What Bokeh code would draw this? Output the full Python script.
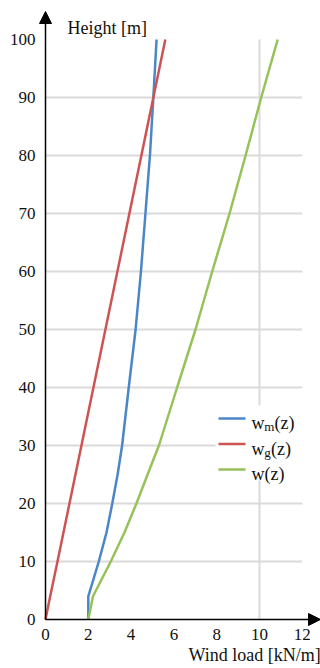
from bokeh.plotting import figure
from bokeh.models import Range1d, FixedTicker, Arrow, NormalHead, Label, ColumnDataSource, Title
from bokeh.core.properties import value
from bokeh.embed import file_html
from bokeh.resources import INLINE

# ---- data ----
heights = [0, 4, 10, 15, 20, 25, 30, 40, 50, 60, 70, 80, 90, 100]
wm = [2.0, 2.0, 2.49, 2.85, 3.12, 3.37, 3.58, 3.89, 4.21, 4.46, 4.67, 4.88, 5.04, 5.19]
wg = [0.0, 0.22, 0.56, 0.84, 1.12, 1.40, 1.68, 2.24, 2.80, 3.36, 3.92, 4.48, 5.04, 5.60]
w = [2.0, 2.22, 3.05, 3.69, 4.25, 4.77, 5.30, 6.15, 7.01, 7.79, 8.60, 9.35, 10.08, 10.85]

x_ticks = [0, 2, 4, 6, 8, 10, 12]
y_ticks = [0, 10, 20, 30, 40, 50, 60, 70, 80, 90, 100]
x_grid = [10]
y_grid = [10, 20, 30, 40, 50, 60, 70, 80, 90]

series_names = ["m", "g", ""]
colors = ["#4a86c8", "#cc5452", "#96c25a"]
FONT = "Liberation Serif"

# pixel geometry (canvas == page, template has no margin)
PX_X = 21.4   # px per kN/m
PX_Y = 5.8    # px per m
X0, Y0 = 45, 619   # pixel of the origin
W, H = 320, 668

def dx(px):
    return (px - X0) / PX_X

def dy(py):
    return (Y0 - py) / PX_Y

p = figure(width=W, height=H, output_backend="svg", toolbar_location=None,
           x_range=Range1d(dx(37), dx(320)), y_range=Range1d(dy(627), dy(0)),
           min_border_left=37, min_border_right=0, min_border_top=0, min_border_bottom=41)
p.outline_line_color = None
p.background_fill_color = "white"
p.border_fill_color = "white"
p.grid.visible = False

for axs in (p.xaxis, p.yaxis):
    axs.axis_line_color = None
    axs.major_tick_line_color = None
    axs.minor_tick_line_color = None
    axs.major_tick_out = 0
    axs.major_tick_in = 0
    axs.major_label_text_font = FONT
    axs.major_label_text_font_size = "17px"
    axs.major_label_text_color = "#111111"
p.xaxis.ticker = FixedTicker(ticks=x_ticks)
p.yaxis.ticker = FixedTicker(ticks=y_ticks)
p.xaxis.major_label_standoff = 1
p.yaxis.major_label_standoff = 2

# x-axis title, placed under the tick labels, starting at x = 188 px
p.add_layout(Title(text="Wind load [kN/m]", align="left", offset=151, standoff=0,
                   text_font=FONT, text_font_size="18px", text_font_style="normal",
                   text_color="#111111"), "below")

# grid lines
p.segment(x0=0, x1=max(x_ticks), y0=y_grid, y1=y_grid, line_color="#dadada", line_width=2)
p.segment(x0=x_grid, x1=x_grid, y0=0, y1=max(y_ticks), line_color="#dadada", line_width=2)

# legend background
p.quad(left=dx(215), right=dx(312), bottom=dy(480), top=dy(405), fill_color="white", line_color=None)

# data lines
p.line(wm, heights, line_color=colors[0], line_width=2.5)
p.line(wg, heights, line_color=colors[1], line_width=2.5)
p.line(w, heights, line_color=colors[2], line_width=2.5)

# axes with arrows
p.add_layout(Arrow(end=NormalHead(size=12, fill_color="black", line_color="black"),
                   x_start=0, y_start=0, x_end=0, y_end=dy(11),
                   line_width=1.5, line_color="black"))
p.add_layout(Arrow(end=NormalHead(size=12, fill_color="black", line_color="black"),
                   x_start=0, y_start=0, x_end=dx(320), y_end=0,
                   line_width=1.5, line_color="black"))

p.add_layout(Label(x=dx(67), y=dy(27), text="Height [m]",
                   text_font=FONT, text_font_size="18px", text_baseline="alphabetic",
                   text_color="#111111"))

# manual legend with subscripts
leg_y = [dy(418), dy(443.5), dy(469)]
p.segment(x0=dx(218), x1=dx(245), y0=leg_y, y1=leg_y, line_color=colors, line_width=2.5)
src = ColumnDataSource(dict(x=[dx(251)] * 3, y=leg_y, main=["w"] * 3, sub=series_names,
                            tail=["(z)"] * 3, off=[23, 19.5, 13]))
p.text(x="x", y="y", text="main", source=src, text_font=value(FONT), text_font_size="18px",
       text_baseline="alphabetic", y_offset=4.5, text_color="#111111")
p.text(x="x", y="y", text="sub", source=src, text_font=value(FONT), text_font_size="13px",
       text_baseline="alphabetic", x_offset=12.8, y_offset=8, text_color="#111111")
p.text(x="x", y="y", text="tail", source=src, text_font=value(FONT), text_font_size="18px",
       text_baseline="alphabetic", x_offset="off", y_offset=4.5, text_color="#111111")

open("out.html", "w").write(file_html(p, INLINE))
